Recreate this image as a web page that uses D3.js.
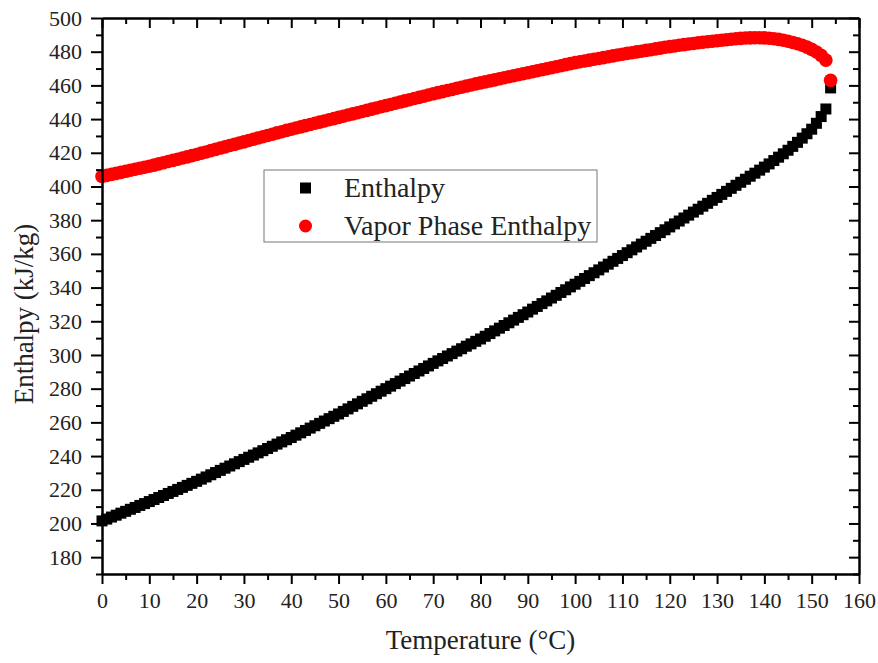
<!DOCTYPE html>
<html>
<head>
<meta charset="utf-8">
<script src="https://cdn.jsdelivr.net/npm/d3@7"></script>
<style>
  body { margin: 0; background: #fff; }
  text { font-family: "Liberation Serif", "Times New Roman", serif; fill: #222; }
</style>
</head>
<body>
<div class="canvas"></div>
<script>
// temperatures 0..154 °C, one point per degree
const temps = d3.range(0, 155);

const liquidEnthalpy = [
  201.5, 202.6, 203.8, 204.9, 206.1, 207.2, 208.4, 209.5, 210.7, 211.8, 213.0,
  214.2, 215.4, 216.6, 217.8, 219.0, 220.2, 221.4, 222.6, 223.8, 225.0,
  226.3, 227.6, 228.9, 230.2, 231.5, 232.8, 234.1, 235.4, 236.7, 238.0,
  239.3, 240.6, 241.9, 243.2, 244.5, 245.8, 247.1, 248.4, 249.7, 251.0,
  252.4, 253.8, 255.2, 256.6, 258.0, 259.4, 260.8, 262.2, 263.6, 265.0,
  266.5, 268.0, 269.5, 271.0, 272.5, 274.0, 275.5, 277.0, 278.5, 280.0,
  281.5, 283.0, 284.5, 286.0, 287.5, 289.0, 290.5, 292.0, 293.5, 295.0,
  296.5, 297.9, 299.4, 300.8, 302.3, 303.7, 305.2, 306.6, 308.1, 309.5,
  311.1, 312.7, 314.3, 315.9, 317.5, 319.1, 320.7, 322.3, 323.9, 325.5,
  327.2, 328.8, 330.5, 332.1, 333.8, 335.4, 337.1, 338.7, 340.4, 342.0,
  343.7, 345.4, 347.1, 348.8, 350.5, 352.2, 353.9, 355.6, 357.3, 359.0,
  360.7, 362.4, 364.1, 365.8, 367.5, 369.2, 370.9, 372.6, 374.3, 376.0,
  377.8, 379.5, 381.3, 383.0, 384.8, 386.5, 388.3, 390.0, 391.8, 393.5,
  395.3, 397.1, 398.9, 400.7, 402.5, 404.3, 406.1, 407.9, 409.7, 411.5,
  413.4, 415.4, 417.4, 419.4, 421.5, 423.8, 426.2, 428.7, 431.3, 434.0,
  437.5, 441.5, 446.0, 458.5
];

const vaporEnthalpy = [
  406.0, 406.6, 407.2, 407.8, 408.4, 409.0, 409.6, 410.2, 410.8, 411.4, 412.0,
  412.7, 413.4, 414.1, 414.8, 415.5, 416.2, 416.9, 417.6, 418.3, 419.0,
  419.8, 420.5, 421.3, 422.0, 422.8, 423.5, 424.3, 425.0, 425.8, 426.5,
  427.3, 428.0, 428.8, 429.5, 430.3, 431.0, 431.8, 432.5, 433.3, 434.0,
  434.7, 435.4, 436.1, 436.8, 437.5, 438.2, 438.9, 439.6, 440.3, 441.0,
  441.7, 442.4, 443.1, 443.8, 444.5, 445.2, 445.9, 446.6, 447.3, 448.0,
  448.7, 449.4, 450.1, 450.8, 451.5, 452.2, 452.9, 453.6, 454.3, 455.0,
  455.7, 456.3, 457.0, 457.6, 458.3, 458.9, 459.6, 460.2, 460.9, 461.5,
  462.1, 462.7, 463.3, 463.9, 464.5, 465.1, 465.7, 466.3, 466.9, 467.5,
  468.1, 468.7, 469.3, 469.9, 470.5, 471.1, 471.7, 472.3, 472.9, 473.5,
  474.0, 474.5, 475.0, 475.5, 476.0, 476.5, 477.0, 477.5, 478.0, 478.5,
  479.0, 479.4, 479.9, 480.3, 480.8, 481.2, 481.7, 482.1, 482.6, 483.0,
  483.4, 483.8, 484.2, 484.6, 484.9, 485.3, 485.6, 485.9, 486.2, 486.5,
  486.8, 487.1, 487.4, 487.7, 487.9, 488.1, 488.2, 488.3, 488.3, 488.2,
  488.0, 487.7, 487.3, 486.8, 486.2, 485.5, 484.7, 483.8, 482.7, 481.4,
  479.8, 477.8, 475.0, 463.0
];

const xTicks = d3.range(0, 161, 10);
const xMinorTicks = d3.range(5, 160, 10);
const yTicks = d3.range(180, 501, 20);
const yMinorTicks = d3.range(170, 500, 20);

const legendItems = [
  { name: 'Enthalpy', shape: 'square', colour: '#000' },
  { name: 'Vapor Phase Enthalpy', shape: 'circle', colour: '#ff0000' }
];

const dims = { width: 878, height: 663 };
const margin = { top: 18, right: 19, bottom: 89, left: 102 };
const inner = {
  width: dims.width - margin.left - margin.right,
  height: dims.height - margin.top - margin.bottom
};

const svg = d3.select('.canvas')
  .append('svg')
  .attr('width', dims.width)
  .attr('height', dims.height);

const graph = svg.append('g')
  .attr('transform', `translate(${margin.left}, ${margin.top})`);

const x = d3.scaleLinear().domain([0, 160]).range([0, inner.width]);
const y = d3.scaleLinear().domain([170, 500]).range([inner.height, 0]);

// data first, axes on top
const liquid = temps.map((t, i) => ({ t, h: liquidEnthalpy[i] }));
const vapor = temps.map((t, i) => ({ t, h: vaporEnthalpy[i] }));

const sq = 11;
graph.append('g').selectAll('rect')
  .data(liquid)
  .enter().append('rect')
  .attr('x', d => x(d.t) - sq / 2)
  .attr('y', d => y(d.h) - sq / 2)
  .attr('width', sq)
  .attr('height', sq)
  .attr('fill', '#000');

graph.append('g').selectAll('circle')
  .data(vapor)
  .enter().append('circle')
  .attr('cx', d => x(d.t))
  .attr('cy', d => y(d.h))
  .attr('r', 6.8)
  .attr('fill', '#ff0000');

// axes
const styleAxis = (g) => {
  g.select('.domain').attr('stroke', '#000').attr('stroke-width', 2);
  g.selectAll('.tick line').attr('stroke', '#000').attr('stroke-width', 2);
  g.selectAll('.tick text').attr('font-size', 22).attr('fill', '#222')
    .attr('font-family', '"Liberation Serif", serif');
};

graph.append('g')
  .attr('transform', `translate(0, ${inner.height})`)
  .call(d3.axisBottom(x).tickValues(xTicks).tickSize(10).tickPadding(8).tickSizeOuter(0))
  .call(styleAxis);
graph.append('g')
  .attr('transform', `translate(0, ${inner.height})`)
  .call(d3.axisBottom(x).tickValues(xMinorTicks).tickSize(6).tickFormat('').tickSizeOuter(0))
  .call(styleAxis);

graph.append('g')
  .call(d3.axisLeft(y).tickValues(yTicks).tickSize(11).tickPadding(9).tickSizeOuter(0))
  .call(styleAxis);
graph.append('g')
  .call(d3.axisLeft(y).tickValues(yMinorTicks).tickSize(6).tickFormat('').tickSizeOuter(0))
  .call(styleAxis);

// top & right: inward ticks, no labels
graph.append('g')
  .call(d3.axisTop(x).tickValues(xTicks).tickSize(-10).tickFormat('').tickSizeOuter(0))
  .call(styleAxis);
graph.append('g')
  .call(d3.axisTop(x).tickValues(xMinorTicks).tickSize(-6).tickFormat('').tickSizeOuter(0))
  .call(styleAxis);
graph.append('g')
  .attr('transform', `translate(${inner.width}, 0)`)
  .call(d3.axisRight(y).tickValues(yTicks).tickSize(-10).tickFormat('').tickSizeOuter(0))
  .call(styleAxis);
graph.append('g')
  .attr('transform', `translate(${inner.width}, 0)`)
  .call(d3.axisRight(y).tickValues(yMinorTicks).tickSize(-6).tickFormat('').tickSizeOuter(0))
  .call(styleAxis);

// axis titles
svg.append('text')
  .attr('x', margin.left + inner.width / 2)
  .attr('y', 649)
  .attr('text-anchor', 'middle')
  .attr('font-size', 27)
  .text('Temperature (°C)');

svg.append('text')
  .attr('transform', `translate(33, ${margin.top + inner.height / 2 + 18}) rotate(-90)`)
  .attr('text-anchor', 'middle')
  .attr('font-size', 27)
  .text('Enthalpy (kJ/kg)');

// legend
const legendGroup = svg.append('g').attr('transform', 'translate(264, 170)');
legendGroup.append('rect')
  .attr('width', 333)
  .attr('height', 72)
  .attr('fill', '#fff')
  .attr('stroke', '#777')
  .attr('stroke-width', 1);

const entries = legendGroup.selectAll('g.entry')
  .data(legendItems)
  .enter().append('g')
  .attr('class', 'entry')
  .attr('transform', (d, i) => `translate(0, ${18 + i * 38})`);

entries.filter(d => d.shape === 'square').append('rect')
  .attr('x', 36).attr('y', -5.5).attr('width', 11).attr('height', 11)
  .attr('fill', d => d.colour);
entries.filter(d => d.shape === 'circle').append('circle')
  .attr('cx', 41.5).attr('cy', 0).attr('r', 6.5)
  .attr('fill', d => d.colour);

entries.append('text')
  .attr('x', 80)
  .attr('y', 9)
  .attr('font-size', 28)
  .text(d => d.name);
</script>
</body>
</html>
